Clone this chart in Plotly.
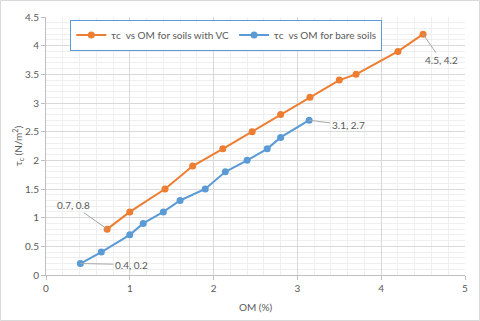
import plotly.graph_objects as go

# tau_c vs organic matter
om_vc = [0.73, 1.0, 1.42, 1.75, 2.11, 2.46, 2.8, 3.15, 3.5, 3.7, 4.2, 4.5]
tau_vc = [0.8, 1.1, 1.5, 1.9, 2.2, 2.5, 2.8, 3.1, 3.4, 3.5, 3.9, 4.2]

om_bare = [0.41, 0.66, 1.0, 1.16, 1.4, 1.6, 1.9, 2.14, 2.4, 2.64, 2.8, 3.14]
tau_bare = [0.2, 0.4, 0.7, 0.9, 1.1, 1.3, 1.5, 1.8, 2.0, 2.2, 2.4, 2.7]

name_vc = "τc  vs OM for soils with VC"
name_bare = "τc  vs OM for bare soils"

orange = "#ED7D31"
blue = "#5B9BD5"
txt = "#595959"

fig = go.Figure()
fig.add_trace(go.Scatter(x=om_vc, y=tau_vc, mode="lines+markers", name=name_vc,
                         line=dict(color=orange, width=2),
                         marker=dict(size=7, color=orange)))
fig.add_trace(go.Scatter(x=om_bare, y=tau_bare, mode="lines+markers", name=name_bare,
                         line=dict(color=blue, width=2),
                         marker=dict(size=7, color=blue)))

# data labels at the ends of each series
labels = [
    (om_vc[0], tau_vc[0], -34, -24),
    (om_bare[0], tau_bare[0], 51, 1),
    (om_bare[-1], tau_bare[-1], 39, 5),
    (om_vc[-1], tau_vc[-1], 18, 26),
]
for x, y, ax, ay in labels:
    fig.add_annotation(x=x, y=y, text=f"{x:.1f}, {y:.1f}", showarrow=True,
                       arrowhead=0, arrowwidth=1, arrowcolor="#A6A6A6",
                       ax=ax, ay=ay, font=dict(size=10, color=txt))

L, R, T, B = 46, 15, 17, 46
pw, ph = 480 - L - R, 321 - T - B
fig.add_shape(type="rect", xref="paper", yref="paper",
              x0=(-L + 0.5) / pw, x1=1 + (R - 0.5) / pw,
              y0=(-B + 0.5) / ph, y1=1 + (T - 0.5) / ph,
              line=dict(color="#D9D9D9", width=1), layer="below")

# axis titles
fig.add_annotation(xref="paper", yref="paper", x=0.5, y=(-B + 14) / ph,
                   text="OM (%)", showarrow=False, yanchor="middle",
                   font=dict(size=10, color=txt))
fig.add_annotation(xref="paper", yref="paper", x=(-L + 18) / pw, y=0.5,
                   text="τ<sub>c</sub> (N/m<sup>2</sup>)", showarrow=False,
                   textangle=-90, xanchor="center", font=dict(size=10, color=txt))

fig.update_xaxes(range=[0, 5], dtick=1, showgrid=True, gridcolor="#D9D9D9",
                 minor=dict(dtick=0.2, showgrid=True, gridcolor="#EFEFEF"),
                 showline=True, linecolor="#BFBFBF", ticks="outside",
                 ticklen=4, tickcolor="#BFBFBF", zeroline=False, automargin=False,
                 tickfont=dict(size=10, color=txt))
fig.update_yaxes(range=[0, 4.5], dtick=0.5, showgrid=True, gridcolor="#D9D9D9",
                 minor=dict(dtick=0.1, showgrid=True, gridcolor="#EFEFEF"),
                 showline=True, linecolor="#BFBFBF", ticks="outside",
                 ticklen=4, tickcolor="#BFBFBF", zeroline=False, automargin=False,
                 tickfont=dict(size=10, color=txt))

fig.update_layout(
    width=480, height=321,
    margin=dict(l=L, r=R, t=T, b=B),
    paper_bgcolor="white", plot_bgcolor="white",
    font=dict(family="Lato", size=10, color=txt),
    legend=dict(orientation="h", x=0.058, y=0.99, xanchor="left", yanchor="top",
                bgcolor="white", bordercolor=blue, borderwidth=1,
                font=dict(size=10, color=txt), itemwidth=30),
)

fig.write_html("out.html", config={"displayModeBar": False},
               post_script="document.body.style.margin='0px';")
